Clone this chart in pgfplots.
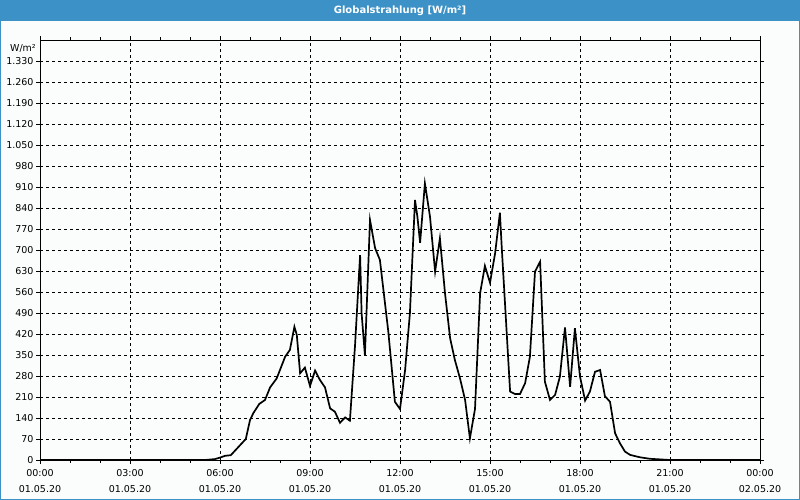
\documentclass[border=0pt]{standalone}
\usepackage{fontspec}
\setmainfont{DejaVu Sans}
\usepackage{pgfplots}
\pgfplotsset{compat=1.18}
\definecolor{titleblue}{RGB}{60,146,198}
\definecolor{bgc}{RGB}{250,253,252}
\begin{document}
\begin{tikzpicture}[x=1pt,y=1pt]
\useasboundingbox (0,0) rectangle (800,500);
\fill[bgc] (0,0) rectangle (800,500);
\fill[titleblue] (0,479) rectangle (800,500);
\draw[titleblue, line width=2pt] (0,0) rectangle (800,500);
\node[white, font=\fontsize{10}{12}\selectfont\bfseries] at (400,489.5) {Globalstrahlung [W/m²]};
\begin{axis}[
  at={(40pt,40pt)}, anchor=south west, scale only axis,
  width=720pt, height=420pt,
  xmin=0, xmax=24, ymin=0, ymax=1400,
  xtick={0,3,...,24},
  xticklabels={{00:00\\01.05.20},{03:00\\01.05.20},{06:00\\01.05.20},{09:00\\01.05.20},{12:00\\01.05.20},{15:00\\01.05.20},{18:00\\01.05.20},{21:00\\01.05.20},{00:00\\02.05.20}},
  minor xtick={1,2,...,23},
  ytick={0,70,...,1330},
  grid=major,
  major grid style={dashed, black, line width=0.6pt},
  axis line style={black, line width=0.8pt},
  tick style={black, line width=0.6pt},
  tick align=outside,
  major tick length=4pt,
  minor tick length=3pt,
  tick label style={font=\fontsize{9.5}{16}\selectfont},
  x tick label style={align=center, yshift=-2pt},
  y tick label style={xshift=1pt},
  /pgf/number format/assume math mode=true,
  /pgf/number format/1000 sep={.},
]
\addplot[black, line width=1.7pt] coordinates {
(0,0) (5.5,0) (5.83,3) (6.0,8) (6.17,14) (6.36,16) (6.86,70) (7.0,133) (7.11,156) (7.31,187) (7.5,200)
(7.67,242) (7.89,272) (8.17,344) (8.33,367) (8.48,444) (8.56,417) (8.67,289) (8.83,308) (9.0,247)
(9.17,298) (9.33,267) (9.5,242) (9.67,172) (9.83,161) (10.0,124) (10.17,142) (10.33,131)
(10.5,380) (10.67,683) (10.72,489) (10.83,350) (11.0,800) (11.17,706) (11.33,667) (11.61,428)
(11.83,194) (12.0,170) (12.17,300) (12.33,489) (12.5,867) (12.58,811) (12.67,724) (12.83,922)
(13.0,811) (13.17,628) (13.33,739) (13.5,556) (13.67,406) (13.83,333) (14.0,272) (14.17,200)
(14.33,72) (14.5,170) (14.67,556) (14.83,647) (15.0,591) (15.17,689) (15.33,824) (15.39,711)
(15.67,228) (15.83,220) (16.0,220) (16.17,256) (16.33,344) (16.5,628) (16.67,661) (16.83,261)
(17.0,200) (17.17,217) (17.33,278) (17.5,442) (17.67,244) (17.83,439) (18.0,278) (18.17,198)
(18.33,228) (18.5,294) (18.67,300) (18.83,213) (19.0,194) (19.17,89) (19.33,56) (19.5,28)
(19.67,17) (20.0,9) (20.33,4) (20.67,2) (21.0,0) (24,0)
};
\end{axis}
\node[anchor=east, font=\fontsize{9.5}{11}\selectfont, inner sep=0pt] at (36,452) {W/m²};
\end{tikzpicture}
\end{document}
